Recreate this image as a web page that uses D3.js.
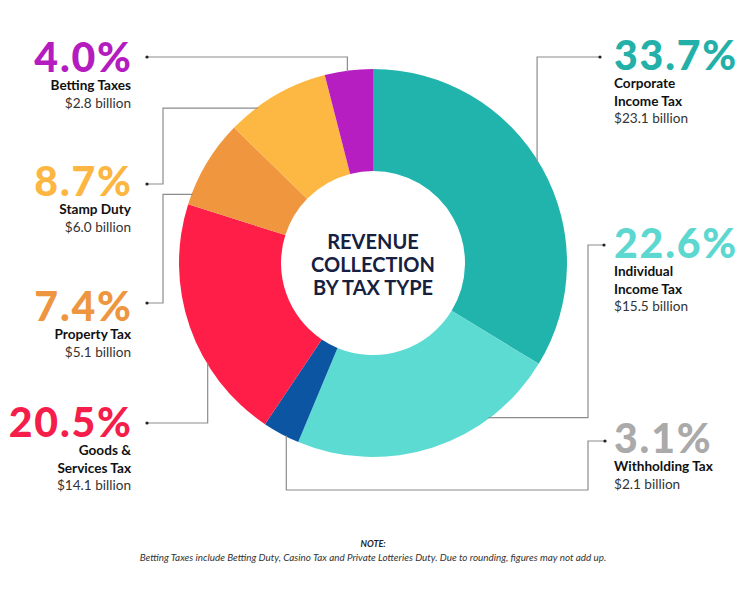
<!DOCTYPE html>
<html>
<head>
<meta charset="utf-8">
<script src="https://cdn.jsdelivr.net/npm/d3@7"></script>
<style>
  html, body { margin: 0; padding: 0; background: #fff; }
  svg { display: block; font-family: Lato, "Open Sans", sans-serif; }
</style>
</head>
<body>
<svg id="chart" width="747" height="598"></svg>
<script>
// ---- data ----
const categories = ["Corporate Income Tax", "Individual Income Tax", "Withholding Tax",
                    "Goods & Services Tax", "Property Tax", "Stamp Duty", "Betting Taxes"];
const percents = [33.7, 22.6, 3.1, 20.5, 7.4, 8.7, 4.0];
const billions = [23.1, 15.5, 2.1, 14.1, 5.1, 6.0, 2.8];
const labelLines = [["Corporate", "Income Tax"], ["Individual", "Income Tax"], ["Withholding Tax"],
                    ["Goods &", "Services Tax"], ["Property Tax"], ["Stamp Duty"], ["Betting Taxes"]];
const centerTitle = ["REVENUE", "COLLECTION", "BY TAX TYPE"];
const noteTitle = "NOTE:";
const noteText = "Betting Taxes include Betting Duty, Casino Tax and Private Lotteries Duty. Due to rounding, figures may not add up.";

// ---- styles ----
const sliceColors = ["#21b4ac", "#5cdbd3", "#0b55a3", "#fe1e47", "#ef963f", "#fdb843", "#b61ec1"];
const pctColors   = ["#22b0a8", "#5cd8d0", "#aaaaaa", "#f51e4a", "#ee963f", "#fcb641", "#b51cbf"];

// ---- layout ----
const cx = 373, cy = 263, rOuter = 194, rInner = 92;
const layout = [
  { side: "R", py: 70,  dot: [600, 57],  route: "hv",   ex: null, ey: null, f: 0.48 },
  { side: "R", py: 258, dot: [604, 245], route: "hvh",  ex: 588,  ey: null, f: 0.27 },
  { side: "R", py: 453, dot: [605, 441], route: "hvhv", ex: 588,  ey: 490,  f: 0.36 },
  { side: "L", py: 437, dot: [147, 423], route: "hv",   ex: null, ey: null, f: 0.34 },
  { side: "L", py: 321, dot: [147, 303], route: "hvh",  ex: 163,  ey: null, f: 0.12 },
  { side: "L", py: 196, dot: [147, 184], route: "hvh",  ex: 163,  ey: null, f: 0.29 },
  { side: "L", py: 72,  dot: [147, 57],  route: "hv",   ex: null, ey: null, f: 0.47 }
];

const svg = d3.select("#chart");
const g = svg.append("g").attr("transform", `translate(${cx},${cy})`);

const pie = d3.pie().sort(null).value(d => d)(percents);
const arc = d3.arc().innerRadius(rInner).outerRadius(rOuter);

// leader lines
const leaders = svg.append("g");
pie.forEach((p, i) => {
  const L = layout[i];
  const a = p.startAngle + (p.endAngle - p.startAngle) * L.f;
  const endX = cx + (rOuter - 1) * Math.sin(a);
  const endY = cy - (rOuter - 1) * Math.cos(a);
  const path = d3.path();
  path.moveTo(L.dot[0], L.dot[1]);
  if (L.route === "hv") {
    path.lineTo(endX, L.dot[1]); path.lineTo(endX, endY);
  } else if (L.route === "hvh") {
    path.lineTo(L.ex, L.dot[1]); path.lineTo(L.ex, endY); path.lineTo(endX, endY);
  } else {
    path.lineTo(L.ex, L.dot[1]); path.lineTo(L.ex, L.ey); path.lineTo(endX, L.ey); path.lineTo(endX, endY);
  }
  leaders.append("path").attr("d", path.toString())
    .attr("fill", "none").attr("stroke", "#8c8c8c").attr("stroke-width", 1.2);
  leaders.append("circle").attr("cx", L.dot[0]).attr("cy", L.dot[1]).attr("r", 1.6).attr("fill", "#222");
});

g.selectAll("path.slice").data(pie).join("path")
  .attr("class", "slice")
  .attr("d", arc)
  .attr("fill", (d, i) => sliceColors[i]);

// centre title
g.append("g").selectAll("text").data(centerTitle).join("text")
  .attr("x", 0).attr("y", (d, i) => -14 + i * 23)
  .attr("text-anchor", "middle")
  .attr("font-size", 20).attr("font-weight", 700)
  .attr("fill", "#17203f")
  .text(d => d);

// labels
const labels = svg.append("g");
pie.forEach((p, i) => {
  const L = layout[i];
  const x = L.side === "L" ? 131 : 614;
  const anchor = L.side === "L" ? "end" : "start";
  const grp = labels.append("g").attr("text-anchor", anchor);
  grp.append("text").attr("x", L.side === "L" ? x + 1.8 : x).attr("y", L.py)
    .attr("font-size", 41).attr("font-weight", 900)
    .attr("fill", pctColors[i])
    .attr("letter-spacing", 1.8)
    .text(percents[i].toFixed(1) + "%");
  let y = L.py + 18;
  labelLines[i].forEach(line => {
    grp.append("text").attr("x", x).attr("y", y)
      .attr("font-size", 13.6).attr("font-weight", 700).attr("fill", "#111")
      .text(line);
    y += 17.5;
  });
  grp.append("text").attr("x", x).attr("y", y)
    .attr("font-size", 13.6).attr("font-weight", 400).attr("fill", "#333")
    .text("$" + billions[i].toFixed(1) + " billion");
});

// note
svg.append("text").attr("x", 373).attr("y", 547).attr("text-anchor", "middle")
  .attr("font-size", 9).attr("font-weight", 700).attr("font-style", "italic").attr("fill", "#222")
  .text(noteTitle);
svg.append("text").attr("x", 373).attr("y", 561).attr("text-anchor", "middle")
  .attr("font-size", 9.9).attr("font-style", "italic").attr("fill", "#333")
  .text(noteText);
</script>
</body>
</html>
